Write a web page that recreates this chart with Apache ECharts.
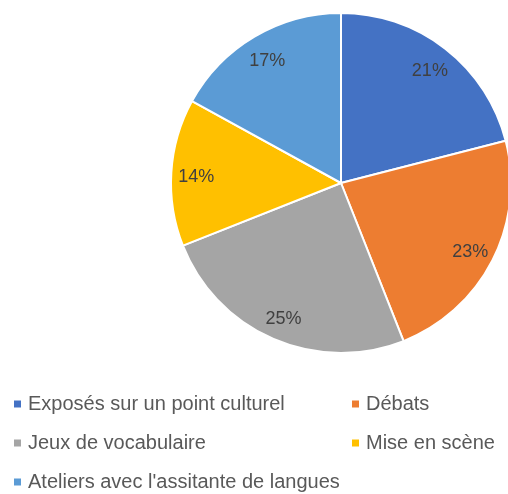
<!DOCTYPE html>
<html lang="fr">
  <head>
    <meta charset="UTF-8" />
    <title>Activités</title>
    <script src="https://cdn.jsdelivr.net/npm/echarts@6/dist/echarts.min.js"></script>
    <style>
      body { margin: 0; background: #fff; }
    </style>
  </head>
  <body>
    <div id="main" style="width: 508px; height: 494px"></div>
    <script type="text/javascript">
      // categories and shares (percent), clockwise from the top
      let categories = [
        "Exposés sur un point culturel",
        "Débats",
        "Jeux de vocabulaire",
        "Mise en scène",
        "Ateliers avec l'assitante de langues",
      ];
      let values = [21, 23, 25, 14, 17];
      let colors = ["#4472C4", "#ED7D31", "#A5A5A5", "#FFC000", "#5B9BD5"];

      // legend columns as in the picture
      let legendLeft = [categories[0], categories[2], categories[4]];
      let legendRight = [categories[1], categories[3]];

      let pieData = categories.map((name, i) => ({
        name: name,
        value: values[i],
        itemStyle: { color: colors[i] },
      }));

      let font = "Liberation Sans";
      let legendBase = {
        orient: "vertical",
        top: 394,
        height: 200,
        padding: 0,
        itemWidth: 9,
        itemHeight: 9,
        itemGap: 19,
        icon: "rect",
        selectedMode: false,
        textStyle: {
          fontFamily: font,
          fontSize: 20,
          lineHeight: 20,
          color: "#595959",
          padding: [0, 0, 0, 1],
        },
      };

      let options = {
        animation: false,
        color: colors,
        legend: [
          Object.assign({}, legendBase, { left: 12, data: legendLeft }),
          Object.assign({}, legendBase, { left: 350, data: legendRight }),
        ],
        series: [
          {
            type: "pie",
            center: [341, 183],
            radius: 170,
            startAngle: 90,
            label: { show: false },
            labelLine: { show: false },
            itemStyle: { borderColor: "#fff", borderWidth: 2 },
            emphasis: { disabled: true },
            data: pieData,
          },
          {
            // transparent ring used only to place the percentage labels
            type: "pie",
            center: [341, 183],
            radius: [114, 170],
            startAngle: 90,
            silent: true,
            itemStyle: { color: "transparent" },
            label: {
              show: true,
              position: "inside",
              formatter: "{c}%",
              fontFamily: font,
              fontSize: 18,
              color: "#404040",
              offset: [0, 3],
            },
            labelLine: { show: false },
            emphasis: { disabled: true },
            data: categories.map((name, i) => ({ name: name, value: values[i] })),
          },
        ],
      };

      let myChart = echarts.init(document.getElementById("main"));
      myChart.setOption(options);
    </script>
  </body>
</html>
